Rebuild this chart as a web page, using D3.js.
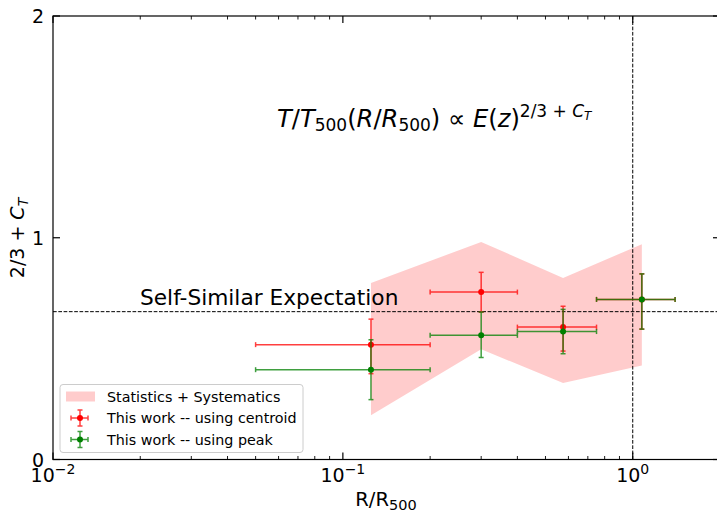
<!DOCTYPE html>
<html>
<head>
<meta charset="utf-8">
<script src="https://cdn.jsdelivr.net/npm/d3@7"></script>
<style>
  html, body { margin: 0; padding: 0; background: #fff; }
  svg { display: block; font-family: "DejaVu Sans", sans-serif; }
</style>
</head>
<body>
<svg id="chart" width="717" height="513"></svg>
<script>
// Radial bins (R/R500) and the fitted slope 2/3 + C_T in each bin
const binCentre = [0.125, 0.30, 0.575, 1.075];
const binLow    = [0.05, 0.20, 0.40, 0.75];
const binHigh   = [0.20, 0.40, 0.75, 1.40];

const centroidValue = [0.518, 0.755, 0.597, 0.722];
const centroidErrLo = [0.131, 0.090, 0.108, 0.134];
const centroidErrHi = [0.115, 0.089, 0.094, 0.115];

const peakValue = [0.405, 0.560, 0.577, 0.722];
const peakErrLo = [0.135, 0.100, 0.100, 0.134];
const peakErrHi = [0.135, 0.105, 0.100, 0.115];

// Statistics + systematics envelope
const bandLower = [0.199, 0.497, 0.345, 0.424];
const bandUpper = [0.796, 0.981, 0.819, 0.971];

const yTicks = [0, 1, 2];
const xMajorTicks = [0.01, 0.1, 1];
const xTickExponents = ["−2", "−1", "0"];
const selfSimilar = 2 / 3;

const svg = d3.select("#chart");
const m = { left: 53, right: 720, top: 16, bottom: 459.5 };

const x = d3.scaleLog().domain([0.01, 2]).range([m.left, m.right]);
const y = d3.scaleLinear().domain([0, 2]).range([m.bottom, m.top]);

svg.append("defs").append("clipPath").attr("id", "plotclip")
  .append("rect").attr("x", m.left).attr("y", m.top)
  .attr("width", m.right - m.left).attr("height", m.bottom - m.top);

const plot = svg.append("g").attr("clip-path", "url(#plotclip)");

// shaded envelope
const band = binCentre.map((c, i) => ({ c, lo: bandLower[i], hi: bandUpper[i] }));
plot.append("path")
  .datum(band)
  .attr("d", d3.area().x(d => x(d.c)).y0(d => y(d.lo)).y1(d => y(d.hi)))
  .attr("fill", "#ff0000").attr("fill-opacity", 0.2).attr("stroke", "none");

// reference lines
plot.append("line")
  .attr("x1", m.left).attr("x2", m.right)
  .attr("y1", y(selfSimilar)).attr("y2", y(selfSimilar))
  .attr("stroke", "#000").attr("stroke-width", 1).attr("stroke-dasharray", "3.7,1.6");
plot.append("line")
  .attr("x1", x(1)).attr("x2", x(1))
  .attr("y1", m.top).attr("y2", m.bottom)
  .attr("stroke", "#000").attr("stroke-width", 1).attr("stroke-dasharray", "3.7,1.6");

// error bars
function drawSeries(vals, lo, hi, colour) {
  const g = plot.append("g");
  const bars = g.append("g").attr("stroke", colour).attr("stroke-width", 1.5).attr("opacity", 0.75);
  const cap = 2.5;
  binCentre.forEach((c, i) => {
    const yc = y(vals[i]);
    bars.append("line").attr("x1", x(binLow[i])).attr("x2", x(binHigh[i])).attr("y1", yc).attr("y2", yc);
    bars.append("line").attr("x1", x(c)).attr("x2", x(c)).attr("y1", y(vals[i] - lo[i])).attr("y2", y(vals[i] + hi[i]));
    [binLow[i], binHigh[i]].forEach(v => bars.append("line")
      .attr("x1", x(v)).attr("x2", x(v)).attr("y1", yc - cap).attr("y2", yc + cap));
    [vals[i] - lo[i], vals[i] + hi[i]].forEach(v => bars.append("line")
      .attr("x1", x(c) - cap).attr("x2", x(c) + cap).attr("y1", y(v)).attr("y2", y(v)));
  });
  g.selectAll("circle").data(vals).join("circle")
    .attr("cx", (d, i) => x(binCentre[i])).attr("cy", d => y(d))
    .attr("r", 3).attr("fill", colour);
}
drawSeries(centroidValue, centroidErrLo, centroidErrHi, "#ff0000");
drawSeries(peakValue, peakErrLo, peakErrHi, "#008000");

// text annotations
svg.append("text").attr("x", 140).attr("y", 305)
  .attr("font-size", 21.7).attr("fill", "#000").text("Self-Similar Expectation");

const eq = svg.append("text").attr("x", 277).attr("y", 127)
  .attr("font-size", 24.2).attr("fill", "#000");
eq.append("tspan").attr("font-style", "italic").text("T");
eq.append("tspan").text("/");
eq.append("tspan").attr("font-style", "italic").text("T");
eq.append("tspan").attr("font-size", 17).attr("dy", 4).text("500");
eq.append("tspan").attr("dy", -4).text("(");
eq.append("tspan").attr("font-style", "italic").text("R");
eq.append("tspan").text("/");
eq.append("tspan").attr("font-style", "italic").text("R");
eq.append("tspan").attr("font-size", 17).attr("dy", 4).text("500");
eq.append("tspan").attr("dy", -4).text(") ∝ ");
eq.append("tspan").attr("font-style", "italic").text("E");
eq.append("tspan").text("(");
eq.append("tspan").attr("font-style", "italic").text("z");
eq.append("tspan").text(")");
eq.append("tspan").attr("font-size", 17).attr("dy", -10).text("2/3 + ");
eq.append("tspan").attr("font-size", 17).attr("font-style", "italic").text("C");
eq.append("tspan").attr("font-size", 12).attr("font-style", "italic").attr("dy", 3).text("T");

// axes frame and ticks
const axisG = svg.append("g").attr("stroke", "#000").attr("stroke-width", 1.2);
axisG.append("rect").attr("x", m.left).attr("y", m.top)
  .attr("width", m.right - m.left).attr("height", m.bottom - m.top).attr("fill", "none");

const minorTicks = [];
[0.01, 0.1, 1].forEach(d => { for (let k = 2; k <= 9; k++) if (d * k <= 2) minorTicks.push(d * k); });
minorTicks.forEach(v => {
  axisG.append("line").attr("x1", x(v)).attr("x2", x(v)).attr("y1", m.bottom).attr("y2", m.bottom - 3.5).attr("stroke-width", 0.9);
  axisG.append("line").attr("x1", x(v)).attr("x2", x(v)).attr("y1", m.top).attr("y2", m.top + 3.5).attr("stroke-width", 0.9);
});
xMajorTicks.forEach(v => {
  axisG.append("line").attr("x1", x(v)).attr("x2", x(v)).attr("y1", m.bottom).attr("y2", m.bottom - 7);
  axisG.append("line").attr("x1", x(v)).attr("x2", x(v)).attr("y1", m.top).attr("y2", m.top + 7);
});
yTicks.forEach(v => {
  axisG.append("line").attr("x1", m.left).attr("x2", m.left + 7).attr("y1", y(v)).attr("y2", y(v));
  axisG.append("line").attr("x1", m.right).attr("x2", m.right - 7).attr("y1", y(v)).attr("y2", y(v));
});

// tick labels
svg.append("g").selectAll("text").data(yTicks).join("text")
  .attr("x", m.left - 9).attr("y", d => y(d) + 7)
  .attr("text-anchor", "end").attr("font-size", 19).text(d => d);

const xl = svg.append("g").selectAll("text").data(xMajorTicks).join("text")
  .attr("x", d => x(d)).attr("y", 482)
  .attr("text-anchor", "middle").attr("font-size", 19);
xl.append("tspan").text("10");
xl.append("tspan").attr("font-size", 14).attr("dy", -8).text((d, i) => xTickExponents[i]);

// axis titles
const xt = svg.append("text").attr("x", 386).attr("y", 506).attr("text-anchor", "middle").attr("font-size", 19.5);
xt.append("tspan").text("R/R");
xt.append("tspan").attr("font-size", 14.5).attr("dy", 4).text("500");

const yt = svg.append("text").attr("transform", "translate(24,238) rotate(-90)")
  .attr("text-anchor", "middle").attr("font-size", 19);
yt.append("tspan").text("2/3 + ");
yt.append("tspan").attr("font-style", "italic").text("C");
yt.append("tspan").attr("font-style", "italic").attr("font-size", 14).attr("dy", 4).text("T");

// legend
const lg = svg.append("g").attr("transform", "translate(60,384.5)");
lg.append("rect").attr("x", 0).attr("y", 0).attr("width", 243).attr("height", 68)
  .attr("rx", 3).attr("fill", "#fff").attr("fill-opacity", 0.8)
  .attr("stroke", "#cccccc").attr("stroke-width", 1);
lg.append("rect").attr("x", 6).attr("y", 7).attr("width", 29).attr("height", 10)
  .attr("fill", "#ff0000").attr("fill-opacity", 0.2);
const legendItems = [
  { label: "Statistics + Systematics" },
  { label: "This work -- using centroid", colour: "#ff0000" },
  { label: "This work -- using peak", colour: "#008000" }
];
legendItems.forEach((it, i) => {
  const cy = 12 + i * 21.5;
  if (it.colour) {
    const s = lg.append("g").attr("stroke", it.colour).attr("stroke-width", 1.5).attr("opacity", 0.75);
    s.append("line").attr("x1", 11).attr("x2", 28).attr("y1", cy).attr("y2", cy);
    s.append("line").attr("x1", 20).attr("x2", 20).attr("y1", cy - 8).attr("y2", cy + 8);
    s.append("line").attr("x1", 11).attr("x2", 11).attr("y1", cy - 2.5).attr("y2", cy + 2.5);
    s.append("line").attr("x1", 28).attr("x2", 28).attr("y1", cy - 2.5).attr("y2", cy + 2.5);
    s.append("line").attr("x1", 17.5).attr("x2", 22.5).attr("y1", cy - 8).attr("y2", cy - 8);
    s.append("line").attr("x1", 17.5).attr("x2", 22.5).attr("y1", cy + 8).attr("y2", cy + 8);
    lg.append("circle").attr("cx", 20).attr("cy", cy).attr("r", 3).attr("fill", it.colour);
  }
  lg.append("text").attr("x", 47).attr("y", cy + 5).attr("font-size", 14.3).text(it.label);
});
</script>
</body>
</html>
